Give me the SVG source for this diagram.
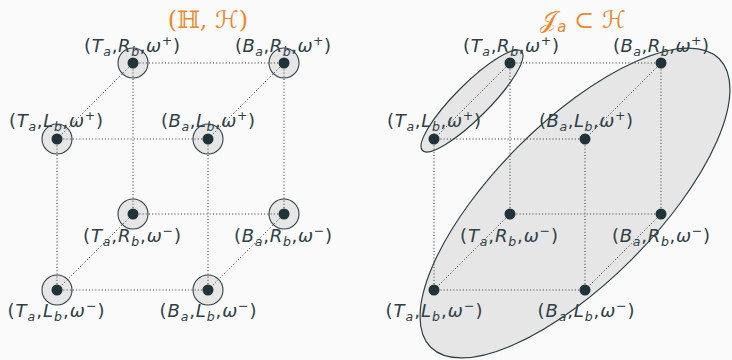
<svg xmlns="http://www.w3.org/2000/svg" width="732" height="360" viewBox="0 0 732 360">
<style>
.lb{font-family:"DejaVu Sans",sans-serif;font-size:18px;fill:#2f4045;text-anchor:middle}
.i{font-style:italic}
.s{font-size:12.5px;font-style:italic}
.p{font-size:12.5px}
.t{font-family:"DejaVu Serif","DejaVu Sans",serif;font-size:24px;fill:#f0882a;text-anchor:middle}
.e{stroke:#333;stroke-width:1;stroke-dasharray:1 2.2;fill:none}
.ring{fill:#e6e6e6;stroke:#2f4045;stroke-width:1.1}
.dot{fill:#1f3338}
.ell{fill:#e6e6e6;stroke:#2f4045;stroke-width:1.2}
</style>
<rect width="732" height="360" fill="#fafafa"/>
<text class="t" x="208" y="28">(ℍ, ℋ)</text>
<text class="t" x="583" y="28">𝒥<tspan font-family="DejaVu Sans,sans-serif" font-style="italic" font-size="15" dy="4">a</tspan><tspan dy="-4"> ⊂ ℋ</tspan></text>

<g id="ellipses">
<ellipse class="ell" cx="472" cy="101" rx="70" ry="17" transform="rotate(-45 472 101)"/>
<ellipse class="ell" cx="575" cy="203" rx="204" ry="80" transform="rotate(-45 575 203)"/>
</g>

<g id="rings">
<circle class="ring" cx="133" cy="63" r="15"/>
<circle class="ring" cx="284" cy="63" r="15"/>
<circle class="ring" cx="57" cy="139" r="15"/>
<circle class="ring" cx="208" cy="139" r="15"/>
<circle class="ring" cx="133" cy="214" r="15"/>
<circle class="ring" cx="284" cy="214" r="15"/>
<circle class="ring" cx="57" cy="290" r="15"/>
<circle class="ring" cx="208" cy="290" r="15"/>
</g>

<g id="connectors">
<path class="e" d="M133 63H284M57 139H208M133 214H284M57 290H208M133 63L57 139M284 63L208 139M133 214L57 290M284 214L208 290M57 139V290M208 139V290M133 63V214M284 63V214"/>
<path class="e" d="M510 63H661M434 139H585M510 214H661M434 290H585M510 63L434 139M661 63L585 139M510 214L434 290M661 214L585 290M434 139V290M585 139V290M510 63V214M661 63V214"/>
</g>

<g id="n-l-TRp"><circle class="dot" cx="133" cy="63" r="5.5"/><text class="lb" x="132" y="52" textLength="96">(<tspan class="i">T</tspan><tspan class="s" dy="4">a</tspan><tspan dy="-4">,</tspan><tspan class="i">R</tspan><tspan class="s" dy="4">b</tspan><tspan dy="-4">,</tspan><tspan class="i">ω</tspan><tspan class="p" dy="-7">+</tspan><tspan dy="7">)</tspan></text></g>
<g id="n-l-BRp"><circle class="dot" cx="284" cy="63" r="5.5"/><text class="lb" x="283" y="52" textLength="96">(<tspan class="i">B</tspan><tspan class="s" dy="4">a</tspan><tspan dy="-4">,</tspan><tspan class="i">R</tspan><tspan class="s" dy="4">b</tspan><tspan dy="-4">,</tspan><tspan class="i">ω</tspan><tspan class="p" dy="-7">+</tspan><tspan dy="7">)</tspan></text></g>
<g id="n-l-TLp"><circle class="dot" cx="57" cy="139" r="5.5"/><text class="lb" x="56" y="127" textLength="94">(<tspan class="i">T</tspan><tspan class="s" dy="4">a</tspan><tspan dy="-4">,</tspan><tspan class="i">L</tspan><tspan class="s" dy="4">b</tspan><tspan dy="-4">,</tspan><tspan class="i">ω</tspan><tspan class="p" dy="-7">+</tspan><tspan dy="7">)</tspan></text></g>
<g id="n-l-BLp"><circle class="dot" cx="208" cy="139" r="5.5"/><text class="lb" x="208" y="127" textLength="94">(<tspan class="i">B</tspan><tspan class="s" dy="4">a</tspan><tspan dy="-4">,</tspan><tspan class="i">L</tspan><tspan class="s" dy="4">b</tspan><tspan dy="-4">,</tspan><tspan class="i">ω</tspan><tspan class="p" dy="-7">+</tspan><tspan dy="7">)</tspan></text></g>
<g id="n-l-TRm"><circle class="dot" cx="133" cy="214" r="5.5"/><text class="lb" x="132" y="242" textLength="98">(<tspan class="i">T</tspan><tspan class="s" dy="4">a</tspan><tspan dy="-4">,</tspan><tspan class="i">R</tspan><tspan class="s" dy="4">b</tspan><tspan dy="-4">,</tspan><tspan class="i">ω</tspan><tspan class="p" dy="-7">−</tspan><tspan dy="7">)</tspan></text></g>
<g id="n-l-BRm"><circle class="dot" cx="284" cy="214" r="5.5"/><text class="lb" x="283" y="242" textLength="98">(<tspan class="i">B</tspan><tspan class="s" dy="4">a</tspan><tspan dy="-4">,</tspan><tspan class="i">R</tspan><tspan class="s" dy="4">b</tspan><tspan dy="-4">,</tspan><tspan class="i">ω</tspan><tspan class="p" dy="-7">−</tspan><tspan dy="7">)</tspan></text></g>
<g id="n-l-TLm"><circle class="dot" cx="57" cy="290" r="5.5"/><text class="lb" x="56" y="317" textLength="97">(<tspan class="i">T</tspan><tspan class="s" dy="4">a</tspan><tspan dy="-4">,</tspan><tspan class="i">L</tspan><tspan class="s" dy="4">b</tspan><tspan dy="-4">,</tspan><tspan class="i">ω</tspan><tspan class="p" dy="-7">−</tspan><tspan dy="7">)</tspan></text></g>
<g id="n-l-BLm"><circle class="dot" cx="208" cy="290" r="5.5"/><text class="lb" x="208" y="317" textLength="97">(<tspan class="i">B</tspan><tspan class="s" dy="4">a</tspan><tspan dy="-4">,</tspan><tspan class="i">L</tspan><tspan class="s" dy="4">b</tspan><tspan dy="-4">,</tspan><tspan class="i">ω</tspan><tspan class="p" dy="-7">−</tspan><tspan dy="7">)</tspan></text></g>

<g id="n-r-TRp"><circle class="dot" cx="510" cy="63" r="5.5"/><text class="lb" x="511" y="52" textLength="96">(<tspan class="i">T</tspan><tspan class="s" dy="4">a</tspan><tspan dy="-4">,</tspan><tspan class="i">R</tspan><tspan class="s" dy="4">b</tspan><tspan dy="-4">,</tspan><tspan class="i">ω</tspan><tspan class="p" dy="-7">+</tspan><tspan dy="7">)</tspan></text></g>
<g id="n-r-BRp"><circle class="dot" cx="661" cy="63" r="5.5"/><text class="lb" x="661" y="52" textLength="96">(<tspan class="i">B</tspan><tspan class="s" dy="4">a</tspan><tspan dy="-4">,</tspan><tspan class="i">R</tspan><tspan class="s" dy="4">b</tspan><tspan dy="-4">,</tspan><tspan class="i">ω</tspan><tspan class="p" dy="-7">+</tspan><tspan dy="7">)</tspan></text></g>
<g id="n-r-TLp"><circle class="dot" cx="434" cy="139" r="5.5"/><text class="lb" x="434" y="127" textLength="94">(<tspan class="i">T</tspan><tspan class="s" dy="4">a</tspan><tspan dy="-4">,</tspan><tspan class="i">L</tspan><tspan class="s" dy="4">b</tspan><tspan dy="-4">,</tspan><tspan class="i">ω</tspan><tspan class="p" dy="-7">+</tspan><tspan dy="7">)</tspan></text></g>
<g id="n-r-BLp"><circle class="dot" cx="585" cy="139" r="5.5"/><text class="lb" x="586" y="127" textLength="94">(<tspan class="i">B</tspan><tspan class="s" dy="4">a</tspan><tspan dy="-4">,</tspan><tspan class="i">L</tspan><tspan class="s" dy="4">b</tspan><tspan dy="-4">,</tspan><tspan class="i">ω</tspan><tspan class="p" dy="-7">+</tspan><tspan dy="7">)</tspan></text></g>
<g id="n-r-TRm"><circle class="dot" cx="510" cy="214" r="5.5"/><text class="lb" x="509" y="242" textLength="98">(<tspan class="i">T</tspan><tspan class="s" dy="4">a</tspan><tspan dy="-4">,</tspan><tspan class="i">R</tspan><tspan class="s" dy="4">b</tspan><tspan dy="-4">,</tspan><tspan class="i">ω</tspan><tspan class="p" dy="-7">−</tspan><tspan dy="7">)</tspan></text></g>
<g id="n-r-BRm"><circle class="dot" cx="661" cy="214" r="5.5"/><text class="lb" x="661" y="242" textLength="98">(<tspan class="i">B</tspan><tspan class="s" dy="4">a</tspan><tspan dy="-4">,</tspan><tspan class="i">R</tspan><tspan class="s" dy="4">b</tspan><tspan dy="-4">,</tspan><tspan class="i">ω</tspan><tspan class="p" dy="-7">−</tspan><tspan dy="7">)</tspan></text></g>
<g id="n-r-TLm"><circle class="dot" cx="434" cy="290" r="5.5"/><text class="lb" x="434" y="317" textLength="97">(<tspan class="i">T</tspan><tspan class="s" dy="4">a</tspan><tspan dy="-4">,</tspan><tspan class="i">L</tspan><tspan class="s" dy="4">b</tspan><tspan dy="-4">,</tspan><tspan class="i">ω</tspan><tspan class="p" dy="-7">−</tspan><tspan dy="7">)</tspan></text></g>
<g id="n-r-BLm"><circle class="dot" cx="585" cy="290" r="5.5"/><text class="lb" x="586" y="317" textLength="97">(<tspan class="i">B</tspan><tspan class="s" dy="4">a</tspan><tspan dy="-4">,</tspan><tspan class="i">L</tspan><tspan class="s" dy="4">b</tspan><tspan dy="-4">,</tspan><tspan class="i">ω</tspan><tspan class="p" dy="-7">−</tspan><tspan dy="7">)</tspan></text></g>
</svg>
